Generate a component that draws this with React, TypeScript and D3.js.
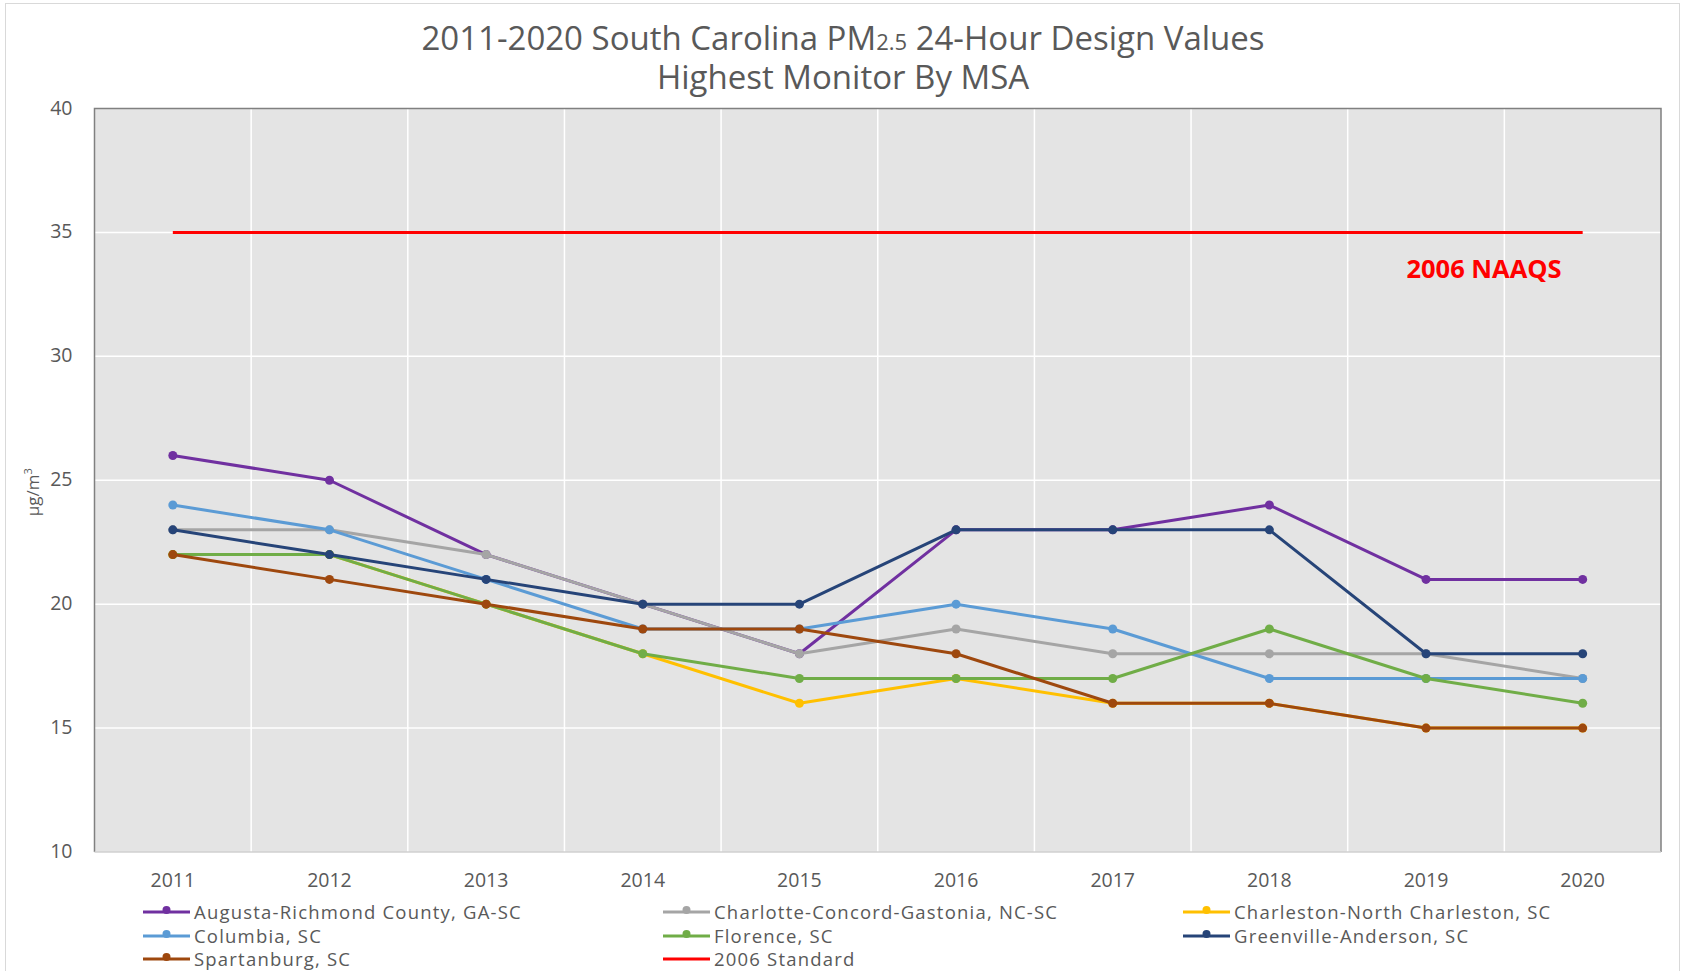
import { useEffect, useRef } from "react";
import * as d3 from "d3";

const years = ["2011", "2012", "2013", "2014", "2015", "2016", "2017", "2018", "2019", "2020"];

const augusta = [26, 25, 22, 20, 18, 23, 23, 24, 21, 21];
const charlotte = [23, 23, 22, 20, 18, 19, 18, 18, 18, 17];
const charleston = [22, 22, 20, 18, 16, 17, 16, 16, 15, 15];
const columbia = [24, 23, 21, 19, 19, 20, 19, 17, 17, 17];
const florence = [22, 22, 20, 18, 17, 17, 17, 19, 17, 16];
const greenville = [23, 22, 21, 20, 20, 23, 23, 23, 18, 18];
const spartanburg = [22, 21, 20, 19, 19, 18, 16, 16, 15, 15];
const standard = [35, 35, 35, 35, 35, 35, 35, 35, 35, 35];

const yTicks = [10, 15, 20, 25, 30, 35, 40];

const series = [
  { name: "Augusta-Richmond County, GA-SC", values: augusta, color: "#7030a0", marker: true },
  { name: "Charlotte-Concord-Gastonia, NC-SC", values: charlotte, color: "#a5a5a5", marker: true },
  { name: "Charleston-North Charleston, SC", values: charleston, color: "#ffc000", marker: true },
  { name: "Columbia, SC", values: columbia, color: "#5b9bd5", marker: true },
  { name: "Florence, SC", values: florence, color: "#70ad47", marker: true },
  { name: "Greenville-Anderson, SC", values: greenville, color: "#264478", marker: true },
  { name: "Spartanburg, SC", values: spartanburg, color: "#9e480e", marker: true },
  { name: "2006 Standard", values: standard, color: "#ff0000", marker: false },
];

const W = 1685;
const H = 971;
const margin = { top: 108.5, right: 24, bottom: 119, left: 94.5 };
const font = "'Open Sans', sans-serif";
const textColor = "#595959";

export default function App() {
  const ref = useRef<SVGSVGElement>(null);

  useEffect(() => {
    if (!ref.current) return;
    const svg = d3.select(ref.current);
    svg.selectAll("*").remove();

    const width = W - margin.left - margin.right;
    const height = H - margin.top - margin.bottom;

    // outer chart frame
    svg.append("rect")
      .attr("x", 5.5).attr("y", 3.5)
      .attr("width", 1674).attr("height", 1000)
      .attr("fill", "#fff").attr("stroke", "#d9d9d9");

    // title
    const title = svg.append("text")
      .attr("text-anchor", "middle")
      .attr("font-family", font)
      .attr("fill", textColor)
      .attr("font-size", 33);
    const t1 = title.append("tspan").attr("x", 843).attr("y", 50);
    t1.append("tspan").text("2011-2020 South Carolina PM");
    t1.append("tspan").attr("font-size", 22).text("2.5");
    t1.append("tspan").text(" 24-Hour Design Values");
    title.append("tspan").attr("x", 843).attr("y", 89).text("Highest Monitor By MSA");

    const chart = svg.append("g")
      .attr("transform", `translate(${margin.left}, ${margin.top})`);

    const x = d3.scaleBand().domain(years).range([0, width]);
    const y = d3.scaleLinear().domain([10, 40]).range([height, 0]);
    const cx = (d: string) => (x(d) ?? 0) + x.bandwidth() / 2;

    chart.append("rect")
      .attr("width", width).attr("height", height)
      .attr("fill", "#e4e4e4");

    // grid
    chart.append("g")
      .selectAll("line")
      .data(years.slice(1))
      .enter()
      .append("line")
        .attr("x1", (d) => x(d) ?? 0).attr("x2", (d) => x(d) ?? 0)
        .attr("y1", 0).attr("y2", height)
        .attr("stroke", "#fff").attr("stroke-width", 1.5);
    chart.append("g")
      .selectAll("line")
      .data(yTicks.slice(1, -1))
      .enter()
      .append("line")
        .attr("x1", 0).attr("x2", width)
        .attr("y1", (d) => y(d)).attr("y2", (d) => y(d))
        .attr("stroke", "#fff").attr("stroke-width", 1.5);

    // plot border
    chart.append("path")
      .attr("d", `M0,${height}V0H${width}V${height}`)
      .attr("fill", "none").attr("stroke", "#808080").attr("stroke-width", 1.5);
    chart.append("line")
      .attr("x1", 0).attr("x2", width).attr("y1", height).attr("y2", height)
      .attr("stroke", "#d0d0d0").attr("stroke-width", 1.5);

    // axis labels
    chart.append("g")
      .selectAll("text")
      .data(yTicks)
      .enter()
      .append("text")
        .attr("x", -22).attr("y", (d) => y(d) + 6)
        .attr("text-anchor", "end")
        .attr("font-family", font).attr("font-size", 19.5).attr("fill", textColor)
        .text((d) => d);
    chart.append("g")
      .selectAll("text")
      .data(years)
      .enter()
      .append("text")
        .attr("x", (d) => cx(d)).attr("y", height + 35)
        .attr("text-anchor", "middle")
        .attr("font-family", font).attr("font-size", 19.5).attr("fill", textColor)
        .text((d) => d);

    const yLabel = svg.append("text")
      .attr("transform", `translate(39, ${y(25) + margin.top + 12}) rotate(-90)`)
      .attr("text-anchor", "middle")
      .attr("font-family", font).attr("font-size", 17).attr("fill", textColor);
    yLabel.append("tspan").text("µg/m");
    yLabel.append("tspan").attr("font-size", 11).attr("dy", -7).text("3");

    // series
    const line = d3.line<number>()
      .x((_, i) => cx(years[i]))
      .y((d) => y(d));

    series.forEach((s) => {
      chart.append("path")
        .datum(s.values)
        .attr("d", line)
        .attr("fill", "none")
        .attr("stroke", s.color)
        .attr("stroke-width", 3)
        .attr("stroke-linejoin", "round");
      if (s.marker) {
        chart.append("g")
          .selectAll("circle")
          .data(s.values)
          .enter()
          .append("circle")
            .attr("cx", (_, i) => cx(years[i]))
            .attr("cy", (d) => y(d))
            .attr("r", 4.5)
            .attr("fill", s.color);
      }
    });

    chart.append("text")
      .attr("x", cx("2019") + 58).attr("y", y(35) + 46)
      .attr("text-anchor", "middle")
      .attr("font-family", font).attr("font-size", 25.5).attr("font-weight", "bold")
      .attr("fill", "#ff0000")
      .text("2006 NAAQS");

    // legend, three columns
    const colX = [143, 663, 1183];
    const rowY = [912, 936, 959];
    const legend = svg.append("g");
    series.forEach((s, i) => {
      const lx = colX[i % 3];
      const ly = rowY[Math.floor(i / 3)];
      const g = legend.append("g").attr("transform", `translate(${lx}, ${ly})`);
      g.append("line")
        .attr("x1", 0).attr("x2", 47).attr("y1", 0).attr("y2", 0)
        .attr("stroke", s.color).attr("stroke-width", 3);
      if (s.marker) {
        g.append("circle").attr("cx", 23.5).attr("cy", -2).attr("r", 4).attr("fill", s.color);
      }
      g.append("text")
        .attr("x", 51).attr("y", 6.5)
        .attr("font-family", font).attr("font-size", 18.5)
        .attr("letter-spacing", 1.2).attr("fill", textColor)
        .text(s.name);
    });
  }, []);

  return (
    <svg
      ref={ref}
      width={W}
      height={H}
      style={{ position: "absolute", left: 0, top: 0, display: "block" }}
    />
  );
}
